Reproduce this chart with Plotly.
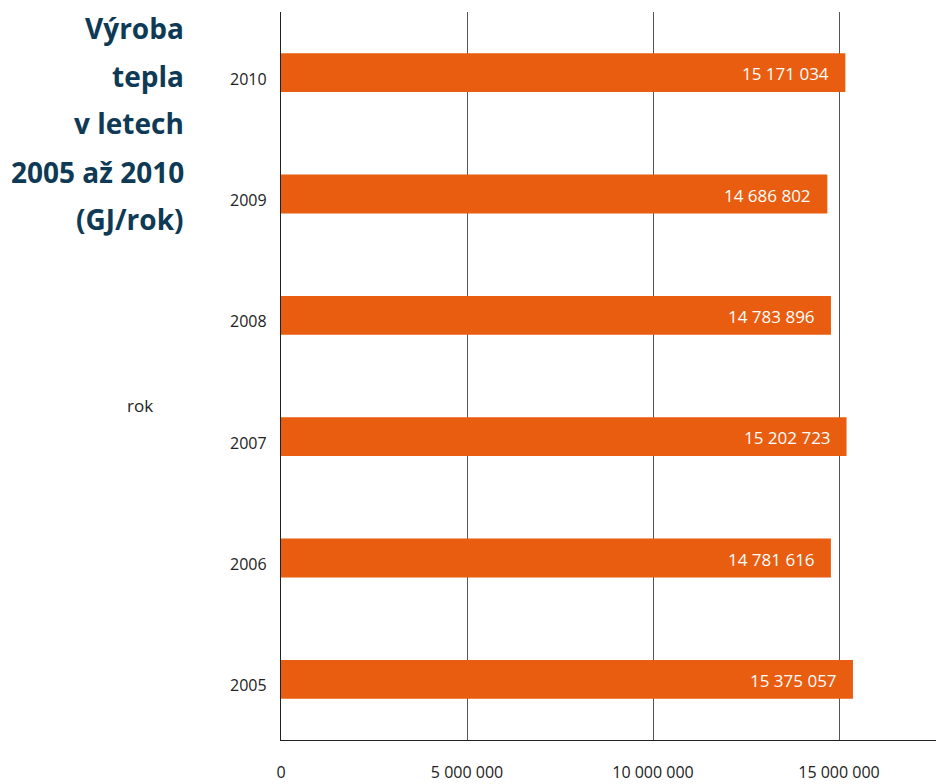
import plotly.graph_objects as go

years = ["2005", "2006", "2007", "2008", "2009", "2010"]
values = [15375057, 14781616, 15202723, 14783896, 14686802, 15171034]
x_ticks = [0, 5000000, 10000000, 15000000]
x_tick_labels = ["0", "5 000 000", "10 000 000", "15 000 000"]
title_lines = ["Výroba", "tepla", "v letech", "2005 až 2010", "(GJ/rok)"]
y_axis_title = "rok"

BAR = "#E85D0F"
TITLE = "#0E3A55"
TXT = "#222222"
FONT = "Open Sans"

# page body has an 8px margin; screen coords are shifted by OFF
OFF = 8
W, H = 944 - OFF, 784 - OFF
L, R, T = 281 - OFF, 0, 12 - OFF
B = H - (740 - OFF)
pw, ph = W - L - R, H - T - B

def fmt(v):
    return f"{v:,}".replace(",", " ")

fig = go.Figure(go.Bar(
    y=years, x=values, orientation="h",
    marker=dict(color=BAR, line=dict(width=0)),
    width=0.32, hoverinfo="skip",
))

ann = []
for i, v in enumerate(values):
    ann.append(dict(x=v, y=i, xref="x", yref="y", text=fmt(v), showarrow=False,
                    xanchor="right", xshift=-14, yshift=-1,
                    font=dict(family=FONT, size=17, color="white")))
for i, yr in enumerate(years):
    ann.append(dict(x=0, y=i, xref="x", yref="y", text=yr, showarrow=False,
                    xanchor="right", xshift=-12, yshift=-6,
                    font=dict(family=FONT, size=16, color=TXT)))

def px(sx, sy):
    return (sx - OFF - L) / pw, (H - (sy - OFF) - B) / ph

title_y = [28, 76, 123, 172, 219]
for t, py in zip(title_lines, title_y):
    x, y = px(186, py)
    ann.append(dict(x=x, y=y, xref="paper", yref="paper", text=f"<b>{t}</b>",
                    showarrow=False, xanchor="right", yanchor="middle",
                    font=dict(family=FONT, size=28, color=TITLE)))
x, y = px(140, 405)
ann.append(dict(x=x, y=y, xref="paper", yref="paper", text=y_axis_title,
                showarrow=False, xanchor="center", yanchor="middle",
                font=dict(family=FONT, size=17, color=TXT)))

fig.update_layout(
    width=W, height=H,
    margin=dict(l=L, r=R, t=T, b=B, pad=0, autoexpand=False),
    plot_bgcolor="white", paper_bgcolor="white",
    showlegend=False,
    font=dict(family=FONT, size=16, color=TXT),
    annotations=ann,
    xaxis=dict(range=[0, (944 - 281) / 186 * 5000000], tickvals=x_ticks, ticktext=x_tick_labels,
               showgrid=True, gridcolor="#555555", gridwidth=1, zeroline=False,
               showline=True, linecolor="#222222", linewidth=1,
               ticks="", ticklabelstandoff=18, tickfont=dict(size=16, color=TXT),
               automargin=False, fixedrange=True),
    yaxis=dict(type="category", categoryorder="array", categoryarray=years,
               range=[-0.5, 5.5],
               showline=True, linecolor="#222222", linewidth=1,
               showgrid=False, ticks="", showticklabels=False,
               automargin=False, fixedrange=True),
)

fig.write_html("out.html")
